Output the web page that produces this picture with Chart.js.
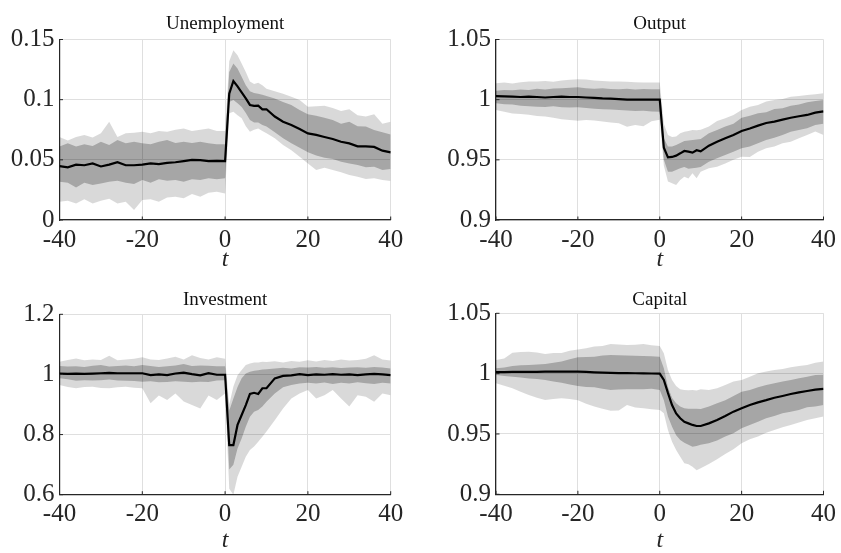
<!DOCTYPE html>
<html>
<head>
<meta charset="utf-8">
<script src="https://cdn.jsdelivr.net/npm/chart.js@4.4.1/dist/chart.umd.min.js"></script>
<style>
  body { margin: 0; background: #fff; }
  #wrap { position: relative; width: 841px; height: 553px; }
  canvas { position: absolute; }
</style>
</head>
<body>
<div id="wrap">
  <canvas id="c1" style="left:0px;top:0px"></canvas>
  <canvas id="c2" style="left:420px;top:0px"></canvas>
  <canvas id="c3" style="left:0px;top:276px"></canvas>
  <canvas id="c4" style="left:420px;top:276px"></canvas>
</div>
<script>
// periods (every 2nd period, every period right after the shock)
const periods = [-40,-38,-36,-34,-32,-30,-28,-26,-24,-22,-20,-18,-16,-14,-12,-10,-8,-6,-4,-2,
  0,1,2,3,4,5,6,7,8,9,10,
  12,14,16,18,20,22,24,26,28,30,32,34,36,38,40];
const xTicks = [-40, -20, 0, 20, 40];

// Unemployment
const unTicks = [0, 0.05, 0.1, 0.15];
const unMed = [0.0448,0.0438,0.046,0.0455,0.047,0.0445,0.046,0.048,0.0455,0.0455,0.046,0.047,0.0465,0.0475,0.048,0.049,0.050,0.0498,0.049,0.0492,
  0.049,0.105,0.1155,0.111,0.106,0.101,0.0956,0.0948,0.095,0.092,0.092,
  0.086,0.0817,0.079,0.0756,0.072,0.0707,0.069,0.0673,0.065,0.0637,0.0612,0.0612,0.0607,0.0576,0.0562];
const unIn1 = [0.0318,0.031,0.027,0.031,0.029,0.0304,0.0318,0.0327,0.031,0.030,0.0332,0.031,0.0338,0.0327,0.0332,0.0318,0.0338,0.0332,0.0346,0.0338,
  0.0346,0.098,0.0998,0.097,0.094,0.089,0.083,0.081,0.081,0.079,0.0776,
  0.0729,0.068,0.0637,0.060,0.0562,0.0535,0.0518,0.0507,0.0485,0.047,0.0457,0.0438,0.0443,0.0416,0.0424];
const unIn2 = [0.061,0.0637,0.061,0.063,0.0614,0.065,0.0623,0.0664,0.0637,0.065,0.0637,0.063,0.065,0.0664,0.064,0.065,0.064,0.065,0.0637,0.063,
  0.063,0.123,0.130,0.126,0.119,0.112,0.107,0.1055,0.105,0.104,0.103,
  0.101,0.098,0.0956,0.0914,0.0878,0.0867,0.085,0.083,0.080,0.0817,0.078,0.0776,0.0748,0.0729,0.071];
const unOut1 = [0.0152,0.016,0.0138,0.0172,0.0138,0.016,0.0177,0.0138,0.0152,0.0083,0.0166,0.0172,0.0152,0.0188,0.0194,0.018,0.0216,0.0194,0.0227,0.0235,
  0.022,0.0887,0.090,0.087,0.0845,0.078,0.0734,0.075,0.076,0.074,0.072,
  0.068,0.0623,0.058,0.0526,0.047,0.0416,0.0435,0.0416,0.0396,0.0374,0.036,0.034,0.0346,0.0333,0.0324];
const unOut2 = [0.069,0.066,0.069,0.0706,0.0686,0.072,0.0816,0.069,0.072,0.0725,0.0733,0.072,0.074,0.0733,0.075,0.076,0.074,0.075,0.076,0.074,
  0.074,0.132,0.141,0.137,0.130,0.123,0.115,0.113,0.114,0.112,0.109,
  0.107,0.105,0.1025,0.0998,0.0942,0.0945,0.095,0.093,0.0906,0.092,0.087,0.086,0.0878,0.080,0.0817];

// Output
const outTicks = [0.9, 0.95, 1, 1.05];
const outMed = [1.003,1.0028,1.0025,1.0022,1.0025,1.0022,1.0018,1.0022,1.0025,1.0022,1.0022,1.0018,1.0015,1.001,1.0008,1.0005,1.0,1.0,1.0,1.0,
  1.0,0.960,0.952,0.9524,0.9535,0.9554,0.9574,0.9568,0.956,0.958,0.957,
  0.9618,0.965,0.968,0.9707,0.974,0.976,0.9784,0.9806,0.9817,0.9834,0.985,0.9862,0.9873,0.9892,0.9903];
const outIn1 = [0.997,0.9962,0.996,0.995,0.9945,0.9942,0.994,0.9945,0.9938,0.9935,0.9936,0.993,0.9925,0.992,0.9918,0.9914,0.991,0.9905,0.9908,0.9902,
  0.990,0.950,0.940,0.940,0.9416,0.943,0.944,0.9425,0.943,0.9435,0.944,
  0.9485,0.9513,0.954,0.9568,0.9596,0.961,0.9637,0.9665,0.9684,0.9707,0.9734,0.9748,0.9762,0.979,0.980];
const outIn2 = [1.0075,1.008,1.0078,1.0085,1.008,1.009,1.0085,1.0092,1.0095,1.01,1.0103,1.0095,1.009,1.0095,1.0088,1.0086,1.009,1.0085,1.0088,1.0086,
  1.0086,0.968,0.961,0.961,0.9623,0.964,0.9657,0.966,0.9665,0.967,0.9673,
  0.972,0.9748,0.9776,0.980,0.985,0.9867,0.9887,0.9895,0.9923,0.9928,0.995,0.996,0.9978,0.9989,0.9998];
const outOut1 = [0.9914,0.990,0.9886,0.988,0.9875,0.9865,0.986,0.985,0.9838,0.9832,0.9824,0.983,0.9826,0.9818,0.981,0.9803,0.9775,0.979,0.978,0.982,
  0.9834,0.945,0.9319,0.9305,0.929,0.9333,0.936,0.9345,0.9388,0.9347,0.940,
  0.943,0.9443,0.947,0.950,0.9526,0.9524,0.9568,0.9596,0.961,0.9637,0.965,0.9679,0.9707,0.9735,0.9707];
const outOut2 = [1.0136,1.0142,1.0135,1.0145,1.015,1.015,1.0155,1.0148,1.016,1.0165,1.017,1.0168,1.016,1.0155,1.015,1.015,1.0148,1.0145,1.0142,1.0142,
  1.0142,0.980,0.9707,0.969,0.9693,0.972,0.9734,0.974,0.9748,0.9745,0.975,
  0.9776,0.9823,0.9845,0.9873,0.9914,0.9942,0.9956,0.9984,0.9997,1.0006,1.0025,1.003,1.0039,1.0045,1.0053];

// Investment
const invTicks = [0.6, 0.8, 1, 1.2];
const invMed = [1.003,1.002,1.003,1.002,1.003,1.004,1.005,1.004,1.004,1.004,1.004,0.998,1.0,0.998,1.003,1.006,1.001,0.997,1.004,0.999,
  0.999,0.765,0.765,0.832,0.865,0.898,0.935,0.939,0.935,0.954,0.954,
  0.987,0.995,0.997,1.001,0.998,1.0,0.999,1.001,0.999,1.0,0.998,1.0,1.002,1.0,0.998];
const invIn1 = [0.987,0.984,0.979,0.981,0.98,0.981,0.983,0.98,0.979,0.978,0.976,0.977,0.974,0.975,0.977,0.976,0.974,0.976,0.975,0.98,
  0.981,0.684,0.70,0.754,0.787,0.826,0.859,0.876,0.882,0.893,0.909,
  0.937,0.957,0.965,0.970,0.972,0.970,0.973,0.968,0.972,0.970,0.974,0.971,0.968,0.972,0.97];
const invIn2 = [1.028,1.026,1.027,1.025,1.029,1.031,1.026,1.028,1.03,1.027,1.031,1.028,1.025,1.027,1.03,1.035,1.028,1.03,1.029,1.027,
  1.027,0.88,0.92,0.958,0.987,1.003,1.009,1.012,1.014,1.016,1.017,
  1.02,1.022,1.02,1.024,1.023,1.025,1.022,1.024,1.021,1.023,1.024,1.022,1.025,1.023,1.02];
const invOut1 = [0.965,0.958,0.954,0.958,0.959,0.955,0.954,0.957,0.959,0.956,0.954,0.904,0.93,0.915,0.937,0.91,0.898,0.887,0.93,0.915,
  0.937,0.62,0.60,0.66,0.693,0.726,0.749,0.76,0.776,0.793,0.81,
  0.848,0.887,0.92,0.937,0.948,0.92,0.931,0.948,0.92,0.893,0.931,0.926,0.909,0.937,0.931];
const invOut2 = [1.042,1.048,1.053,1.047,1.05,1.048,1.062,1.047,1.05,1.052,1.057,1.05,1.048,1.053,1.059,1.05,1.064,1.055,1.05,1.057,
  1.052,0.90,0.96,0.997,1.015,1.031,1.036,1.04,1.04,1.042,1.041,
  1.044,1.04,1.045,1.042,1.047,1.043,1.048,1.045,1.05,1.046,1.048,1.052,1.064,1.05,1.046];

// Capital
const capTicks = [0.9, 0.95, 1, 1.05];
const capMed = [1.0013,1.0013,1.0014,1.0014,1.0015,1.0015,1.0016,1.0016,1.0016,1.0017,1.0017,1.0014,1.0011,1.0008,1.0006,1.0005,1.0004,1.0003,1.0002,1.0001,
  1.0,0.9948,0.984,0.974,0.967,0.963,0.960,0.9588,0.9575,0.9566,0.9566,
  0.9588,0.9616,0.9649,0.9685,0.9713,0.974,0.9762,0.978,0.980,0.9815,0.9831,0.9845,0.9856,0.9867,0.9873];
const capIn1 = [0.9989,0.998,0.9975,0.9968,0.996,0.9955,0.9948,0.9935,0.9925,0.991,0.9898,0.989,0.9887,0.9875,0.9865,0.9868,0.987,0.987,0.987,0.9875,
  0.9865,0.978,0.9644,0.956,0.949,0.945,0.9428,0.941,0.9395,0.94,0.941,
  0.9423,0.9445,0.9478,0.9506,0.9547,0.9575,0.9602,0.963,0.9649,0.9671,0.9685,0.9699,0.9721,0.9727,0.974];
const capIn2 = [1.0044,1.005,1.0064,1.007,1.0072,1.0075,1.008,1.009,1.010,1.012,1.0135,1.0138,1.014,1.015,1.0155,1.0152,1.015,1.0148,1.0146,1.0145,
  1.014,1.0044,0.989,0.980,0.9754,0.9727,0.9713,0.971,0.971,0.9708,0.9707,
  0.9727,0.9754,0.978,0.9815,0.985,0.9865,0.9887,0.9906,0.992,0.9934,0.9948,0.9961,0.9975,0.9989,0.999];
const capOut1 = [0.992,0.990,0.9878,0.985,0.9823,0.980,0.9782,0.979,0.9796,0.979,0.978,0.975,0.9727,0.971,0.9693,0.9695,0.974,0.972,0.9713,0.9705,
  0.9699,0.9671,0.9533,0.9436,0.9367,0.9312,0.9257,0.925,0.9229,0.920,0.9215,
  0.9251,0.929,0.9334,0.9373,0.9423,0.9456,0.9478,0.9511,0.9533,0.9555,0.9575,0.9594,0.9616,0.963,0.9644];
const capOut2 = [1.0113,1.0125,1.0174,1.018,1.0182,1.0175,1.0163,1.017,1.0172,1.019,1.020,1.021,1.0224,1.023,1.0246,1.0242,1.0238,1.024,1.0246,1.0235,
  1.023,1.0168,1.003,0.9948,0.9898,0.987,0.9865,0.9862,0.9865,0.986,0.987,
  0.9865,0.9878,0.9906,0.9934,0.9948,0.9975,1.0003,1.0017,1.003,1.0039,1.0052,1.0064,1.0072,1.0091,1.010];

const FONT = '"Liberation Serif", "Times New Roman", serif';
const AXIS = '#262626';
const GRID = 'rgb(223,223,223)';

// small inward tick marks, matlab style
const innerTicks = {
  id: 'innerTicks',
  afterDraw(chart) {
    const { ctx, chartArea: a, scales } = chart;
    ctx.save();
    ctx.strokeStyle = AXIS;
    ctx.lineWidth = 1;
    ctx.beginPath();
    scales.x.ticks.forEach(tk => {
      const px = scales.x.getPixelForValue(tk.value);
      ctx.moveTo(px, a.bottom); ctx.lineTo(px, a.bottom - 3.5);
    });
    scales.y.ticks.forEach(tk => {
      const py = scales.y.getPixelForValue(tk.value);
      ctx.moveTo(a.left, py); ctx.lineTo(a.left + 3.5, py);
    });
    ctx.stroke();
    ctx.restore();
  }
};

function pts(vals) {
  return periods.map((x, i) => ({ x: x, y: vals[i] }));
}

function makePanel(id, w, h, title, yTicks, s, box) {
  const cv = document.getElementById(id);
  cv.width = w; cv.height = h;
  cv.style.width = w + 'px'; cv.style.height = h + 'px';
  const band = (vals, fill, col) => ({
    data: pts(vals), borderWidth: 0, borderColor: 'transparent', pointRadius: 0,
    fill: fill, backgroundColor: col, tension: 0
  });
  new Chart(cv, {
    type: 'line',
    data: {
      datasets: [
        { data: pts(s.med), borderColor: '#000', borderWidth: 2.2, pointRadius: 0, fill: false, tension: 0 },
        band(s.in2, '+1', 'rgba(0,0,0,0.235)'),
        band(s.in1, false, 'transparent'),
        band(s.out2, '+1', 'rgba(0,0,0,0.15)'),
        band(s.out1, false, 'transparent')
      ]
    },
    plugins: [innerTicks],
    options: {
      responsive: false,
      animation: false,
      layout: { padding: { left: 0, right: box.padR, top: 0, bottom: 0 } },
      plugins: {
        legend: { display: false },
        tooltip: { enabled: false },
        title: {
          display: true, text: title, fullSize: false, color: '#111',
          font: { family: FONT, size: 19, weight: 'normal', lineHeight: 1 },
          padding: { top: 14.5, bottom: box.top - 19 - 14.5 }
        }
      },
      scales: {
        x: {
          type: 'linear', min: -40, max: 40,
          afterBuildTicks: sc => { sc.ticks = xTicks.map(v => ({ value: v })); },
          afterFit: sc => { sc.height = box.xh; },
          grid: { color: GRID, drawTicks: false, lineWidth: 1 },
          border: { display: true, color: AXIS, width: 1.2 },
          ticks: { color: AXIS, padding: 5, maxRotation: 0, autoSkip: false,
            font: { family: FONT, size: 25 }, callback: v => String(v) },
          title: { display: true, text: 't', color: AXIS,
            font: { family: FONT, size: 24, style: 'italic', lineHeight: 1 },
            padding: { top: 0, bottom: box.tb } }
        },
        y: {
          type: 'linear', min: yTicks[0], max: yTicks[yTicks.length - 1],
          afterBuildTicks: sc => { sc.ticks = yTicks.map(v => ({ value: v })); },
          afterFit: sc => { sc.width = box.yw; },
          grid: { color: GRID, drawTicks: false, lineWidth: 1 },
          border: { display: true, color: AXIS, width: 1.2 },
          ticks: { color: AXIS, padding: 5, font: { family: FONT, size: 25 },
            callback: v => String(+v.toFixed(3)) }
        }
      }
    }
  });
}

makePanel('c1', 420, 276, 'Unemployment', unTicks,
  { med: unMed, in1: unIn1, in2: unIn2, out1: unOut1, out2: unOut2 },
  { yw: 59.5, padR: 29.3, top: 39.5, xh: 56, tb: 4 });
makePanel('c2', 421, 276, 'Output', outTicks,
  { med: outMed, in1: outIn1, in2: outIn2, out1: outOut1, out2: outOut2 },
  { yw: 76, padR: 13.7, top: 39.5, xh: 56, tb: 4 });
makePanel('c3', 420, 277, 'Investment', invTicks,
  { med: invMed, in1: invIn1, in2: invIn2, out1: invOut1, out2: invOut2 },
  { yw: 59.5, padR: 29.3, top: 38.3, xh: 58.3, tb: 0 });
makePanel('c4', 421, 277, 'Capital', capTicks,
  { med: capMed, in1: capIn1, in2: capIn2, out1: capOut1, out2: capOut2 },
  { yw: 76, padR: 13.7, top: 37.3, xh: 58.7, tb: 0 });
</script>
</body>
</html>
